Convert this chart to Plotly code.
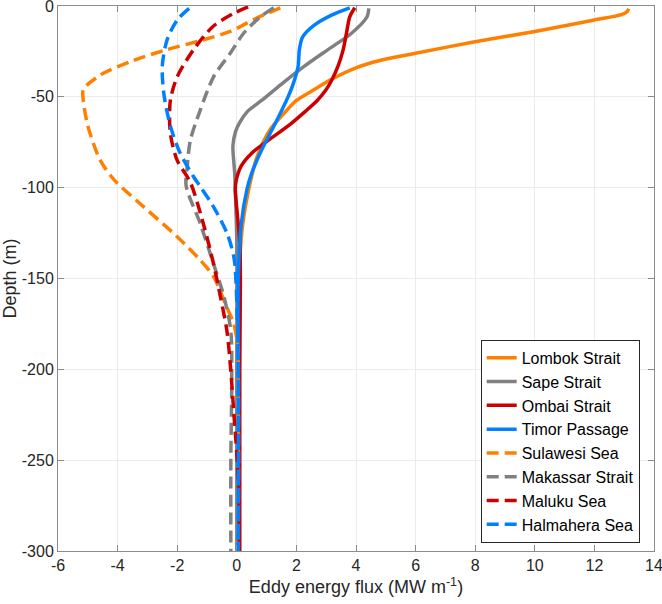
import plotly.graph_objects as go

# ---- data (depth in m, flux in MW m^-1) ----
lombok_depth = [-1.5, -3, -4.8, -7.7, -14, -20, -26, -30, -34, -41, -46, -52, -57, -68, -83, -101, -120, -140, -170, -220, -300]
lombok_flux = [13.15, 13.1, 12.9, 12.0, 10.0, 7.9, 6.0, 4.8, 4.0, 3.1, 2.6, 2.0, 1.7, 1.12, 0.68, 0.4, 0.2, 0.1, 0.07, 0.05, 0.05]

sape_depth = [-1.3, -5.9, -15, -24, -33, -43, -52, -58, -64, -69, -77, -92, -101, -130, -200, -300]
sape_flux = [4.43, 4.37, 3.85, 3.06, 2.28, 1.5, 0.83, 0.36, 0.1, -0.04, -0.13, -0.07, -0.05, 0.0, 0.0, 0.0]

ombai_depth = [-1, -6, -15, -24, -33, -41, -46, -52, -58, -65, -74, -81, -88, -96, -101, -115, -130, -150, -200, -300]
ombai_flux = [3.96, 3.79, 3.68, 3.57, 3.4, 3.18, 3.0, 2.7, 2.3, 1.8, 1.05, 0.5, 0.15, -0.02, -0.05, 0.02, 0.1, 0.12, 0.1, 0.1]

timor_depth = [-1, -5, -10.5, -17, -24, -33, -43, -50, -65, -79, -92, -101, -120, -150, -200, -300]
timor_flux = [3.79, 3.18, 2.6, 2.21, 2.1, 2.06, 1.89, 1.72, 1.28, 0.84, 0.5, 0.34, 0.15, 0.05, 0.05, 0.05]

sulawesi_depth = [-1, -7, -14, -19, -24, -30, -38, -46, -52, -66, -85, -96, -108, -127, -140, -149, -166, -175, -188, -220, -300]
sulawesi_flux = [1.46, 0.62, -0.22, -1.2, -2.34, -3.47, -4.58, -5.15, -5.15, -5.0, -4.58, -4.1, -3.3, -2.0, -1.22, -0.78, -0.33, -0.1, 0.03, 0.05, 0.05]

makassar_depth = [-1, -6, -15, -26, -39, -57, -74, -88, -99, -120, -142, -160, -179, -204, -250, -300]
makassar_flux = [1.24, 0.79, 0.23, -0.22, -0.78, -1.22, -1.56, -1.66, -1.7, -1.22, -0.78, -0.43, -0.2, -0.17, -0.2, -0.2]

maluku_depth = [-0.5, -4, -11, -24, -39, -52, -70, -85, -97, -120, -142, -160, -179, -199, -224, -260, -300]
maluku_flux = [0.38, -0.1, -0.78, -1.45, -2.0, -2.23, -2.23, -2.0, -1.56, -1.12, -0.78, -0.55, -0.33, -0.21, -0.1, 0.05, 0.08]

halmahera_depth = [-1.3, -7.7, -18.7, -33, -48, -66, -81, -94, -100, -110, -125, -138, -151, -200, -300]
halmahera_flux = [-1.6, -2.0, -2.34, -2.5, -2.45, -2.23, -1.9, -1.45, -1.2, -0.8, -0.33, -0.1, -0.03, 0.05, 0.05]

x_ticks = [-6, -4, -2, 0, 2, 4, 6, 8, 10, 12, 14]
x_tick_labels = ["-6", "-4", "-2", "0", "2", "4", "6", "8", "10", "12", "14"]
y_ticks = [0, -50, -100, -150, -200, -250, -300]
y_tick_labels = ["0", "-50", "-100", "-150", "-200", "-250", "-300"]

ORANGE = "#FF8000"
GRAY = "#808080"
RED = "#CC0000"
BLUE = "#0080FF"

series = [
    ("Lombok Strait", lombok_flux, lombok_depth, ORANGE, "solid"),
    ("Sape Strait", sape_flux, sape_depth, GRAY, "solid"),
    ("Ombai Strait", ombai_flux, ombai_depth, RED, "solid"),
    ("Timor Passage", timor_flux, timor_depth, BLUE, "solid"),
    ("Sulawesi Sea", sulawesi_flux, sulawesi_depth, ORANGE, "12px,6px"),
    ("Makassar Strait", makassar_flux, makassar_depth, GRAY, "12px,6px"),
    ("Maluku Sea", maluku_flux, maluku_depth, RED, "12px,6px"),
    ("Halmahera Sea", halmahera_flux, halmahera_depth, BLUE, "12px,6px"),
]

fig = go.Figure()
for name, xs, ys, color, dash in series:
    fig.add_trace(go.Scatter(
        x=xs, y=ys, mode="lines", name=name,
        line=dict(color=color, width=3.5, dash=dash, shape="spline", smoothing=0.8),
    ))

FONT = "Liberation Sans, Arial, sans-serif"
axis_common = dict(
    showgrid=True, gridcolor="#ebebeb", gridwidth=1,
    showline=True, linecolor="#8c8c8c", linewidth=1, mirror="ticks",
    ticks="inside", ticklen=6, tickcolor="#8c8c8c",
    zeroline=False, automargin=False,
    ticklabeloverflow="allow",
    tickfont=dict(family=FONT, size=16, color="#262626"),
)

fig.update_layout(
    width=662, height=604,
    margin=dict(l=58, r=8, t=6, b=53),
    paper_bgcolor="white", plot_bgcolor="white",
    font=dict(family=FONT, color="#262626"),
    xaxis=dict(range=[-6, 14], tickvals=x_ticks, ticktext=x_tick_labels,
               title=dict(text="Eddy energy flux (MW m<sup>-1</sup>)", font=dict(size=18, family=FONT, color="#262626"), standoff=7),
               **axis_common),
    yaxis=dict(range=[-300, 0], tickvals=y_ticks, ticktext=y_tick_labels,
               title=dict(text="Depth (m)", font=dict(size=18, family=FONT, color="#262626"), standoff=4),
               **axis_common),
    legend=dict(
        x=0.976, y=0.015, xanchor="right", yanchor="bottom",
        bgcolor="white", bordercolor="#262626", borderwidth=1,
        font=dict(family=FONT, size=16, color="#000000"),
        tracegroupgap=0,
    ),
    showlegend=True,
)

fig.write_html("out.html", config={"displayModeBar": False},
               post_script="document.body.style.margin='0';document.body.style.overflow='hidden';")
